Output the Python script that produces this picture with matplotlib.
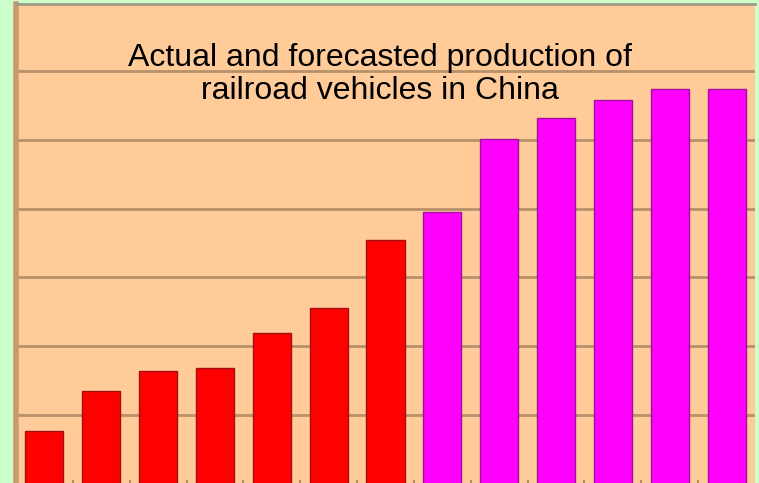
import matplotlib
matplotlib.use("Agg")
import matplotlib.pyplot as plt
import numpy as np

categories = ["1", "2", "3", "4", "5", "6", "7", "8", "9", "10", "11", "12", "13"]
values = [0.77, 1.35, 1.64, 1.69, 2.19, 2.56, 3.55, 3.95, 5.01, 5.32, 5.57, 5.74, 5.74]
kinds = ["actual"] * 7 + ["forecast"] * 6
title = "Actual and forecasted production of\nrailroad vehicles in China"

colors = {"actual": "#FF0000", "forecast": "#FF00FF"}
edges = {"actual": "#A01010", "forecast": "#A010A0"}

fig = plt.figure(figsize=(7.59, 4.83), dpi=100)
fig.patch.set_facecolor("#CCFFCC")
W, H = 759, 483
left, right, top, bottom = 16, 755, 4, 484
ax = fig.add_axes([left / W, 1 - bottom / H, (right - left) / W, (bottom - top) / H])
ax.set_facecolor("#FFCC99")

x = np.arange(len(categories))
ax.bar(x, values, width=0.67,
       color=[colors[k] for k in kinds],
       edgecolor=[edges[k] for k in kinds], linewidth=1.0, zorder=3)

ax.set_xlim(-0.5, len(categories) - 0.5)
ax.set_ylim(0, 6.97)
ax.set_yticks(np.arange(1, 7))
ax.yaxis.grid(True, color="#B8916A", linewidth=2.0, zorder=1)
ax.set_axisbelow(True)
ax.tick_params(axis="y", left=False, labelleft=False)
ax.set_xticks([])
ax.set_xticks(np.arange(0.5, len(categories) - 0.5), minor=True)
ax.tick_params(axis="x", which="minor", direction="in", length=3, width=1.5,
               color="#B38A62", bottom=True, labelbottom=False)

for s in ["right", "bottom"]:
    ax.spines[s].set_visible(False)
ax.spines["top"].set_color("#A09A88")
ax.spines["top"].set_linewidth(2)
ax.spines["left"].set_color("#C89A70")
ax.spines["left"].set_linewidth(4)

ax.text(0.4926, 0.918, title, transform=ax.transAxes, ha="center", va="top",
        fontsize=23, family="Liberation Sans", color="black",
        linespacing=1.1, zorder=5)

fig.savefig("out.png", dpi=100, facecolor=fig.get_facecolor())
